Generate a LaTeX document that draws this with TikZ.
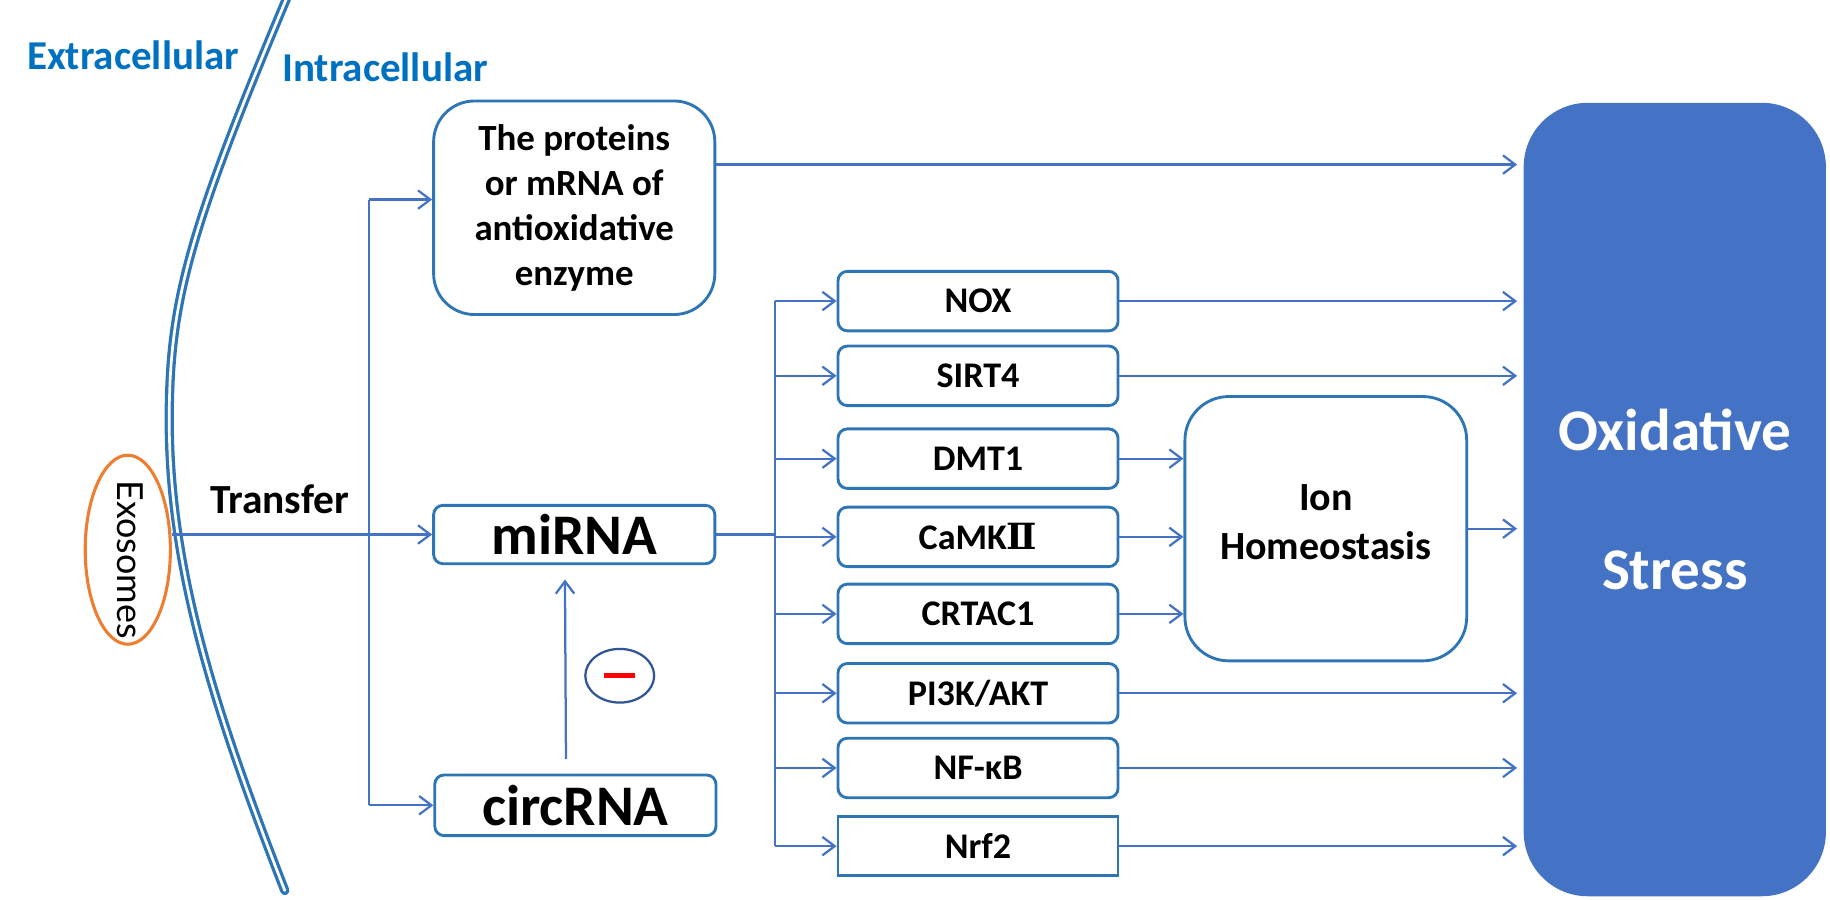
\documentclass[tikz,border=0pt]{standalone}
\usepackage{fontspec}
\setmainfont{Carlito}
\newfontfamily\exofont{Lato}
\newfontfamily\numfont{DejaVu Serif}
\usetikzlibrary{arrows.meta,shapes.geometric}
\definecolor{lineblue}{HTML}{4472C4}
\definecolor{boxblue}{HTML}{2E75B6}
\definecolor{textblue}{HTML}{0070C0}
\definecolor{exoorange}{HTML}{ED7D31}
\definecolor{minusblue}{HTML}{2F5597}

\begin{document}
\begin{tikzpicture}
[x=0.02cm,y=-0.02cm,%
  arr/.style={draw=lineblue,line width=1.1pt,-{Straight Barb[length=6pt,width=9pt]}},%
  conn/.style={draw=lineblue,line width=1.1pt},%
  box/.style={shape=rectangle,draw=boxblue,line width=1.4pt,rounded corners=0.16cm,
    minimum width=4.8cm,minimum height=1.02cm,inner sep=0pt,
    font=\bfseries\fontsize{17.6}{21}\selectfont},%
  rna/.style={box,minimum width=4.82cm,minimum height=1cm,
    font=\bfseries\fontsize{28}{32}\selectfont},%
  side/.style={text=textblue,font=\bfseries\fontsize{20}{24}\selectfont}]
\useasboundingbox (0,0) rectangle (1568,771);
% membrane
\def\membrane{(249.2,-10) -- (245,0) .. controls (161,200) and (145,260) .. (145,360)
  .. controls (145,490) and (186,614) .. (244,763)}
\draw[boxblue,line width=4.5pt,line cap=round] \membrane;
\draw[white,line width=1.3pt,line cap=round] \membrane;
\node[side] (extra) at (114,47) {Extracellular};
\node[side] (intra) at (330,58) {Intracellular};
\node[shape=ellipse,draw=exoorange,line width=1.5pt,
  minimum width=1.46cm,minimum height=3.24cm,inner sep=0pt] (exo) at (109.5,471) {};
\node[rotate=-90,inner sep=0pt,font=\exofont\fontsize{17.5}{20}\selectfont]
  (exotext) at (111.5,479.5) {Exosomes};
\node[font=\bfseries\fontsize{20.2}{24}\selectfont] (transfer) at (239.5,428) {Transfer};
% left column
\node[box,rounded corners=0.7cm,minimum width=4.82cm,minimum height=3.66cm,
  align=center,font=\bfseries\fontsize{18}{21.9}\selectfont] (prot) at (492,178)
  {The proteins\\or mRNA of\\antioxidative\\enzyme};
\node[rna] (mirna) at (492,458) {miRNA};
\node[rna,minimum height=1.04cm] (circ) at (493,690) {circRNA};
\node[shape=ellipse,draw=minusblue,line width=1.1pt,minimum width=1.18cm,
  minimum height=0.92cm,inner sep=0pt] (inhib) at (531,579)
  {\textcolor{red}{\rule{0.54cm}{0.08cm}}};
% middle column
\node[box] (nox) at (838,258) {NOX};
\node[box] (sirt) at (838,322) {SIRT4};
\node[box] (dmt) at (838,393) {DMT1};
\node[box] (camk) at (838,460) {CaMK{\numfont\bfseries Ⅱ}};
\node[box] (crtac) at (838,526) {CRTAC1};
\node[box] (pik) at (838,594) {PI3K/AKT};
\node[box] (nfkb) at (838,658) {NF-κB};
\node[box,sharp corners] (nrf) at (838,725) {Nrf2};
% right column
\node[box,rounded corners=0.75cm,minimum width=4.83cm,minimum height=4.53cm,
  align=center,text depth=0.24cm,font=\bfseries\fontsize{19.5}{23.8}\selectfont]
  (ion) at (1136,453) {Ion\\Homeostasis};
\node[shape=rectangle,fill=lineblue,rounded corners=1.1cm,minimum width=5.18cm,
  minimum height=13.6cm,text=white,align=center,
  font=\bfseries\fontsize{28.8}{68}\selectfont] (ox) at (1435,428) {Oxidative\\Stress};
% connectors
\coordinate (lx) at (316,171);
\coordinate (rx) at (664,0);
\draw[arr] (exo.east |- mirna.west) -- (mirna.west);
\draw[conn] (lx) -- (lx |- circ.west);
\draw[arr] (lx) -- (lx -| prot.west);
\draw[arr] (lx |- circ.west) -- (circ.west);
\draw[arr,shorten <=7pt,shorten >=7pt] ([xshift=-0.16cm]circ.north) -- ([xshift=-0.16cm]mirna.south);
\draw[conn] (mirna.east) -- (mirna.east -| rx);
\draw[conn] (nox.west -| rx) -- (nrf.west -| rx);
\foreach \n in {nox,sirt,dmt,camk,crtac,pik,nfkb,nrf}
  \draw[arr] (\n.west -| rx) -- (\n.west);
\foreach \n in {dmt,camk,crtac}
  \draw[arr] (\n.east) -- (\n.east -| ion.west);
\foreach \n in {nox,sirt,pik,nfkb,nrf,ion}
  \draw[arr,shorten >=3pt] (\n.east) -- (\n.east -| ox.west);
\draw[arr,shorten >=3pt] ([yshift=0.74cm]prot.east) -- ([yshift=0.74cm]prot.east -| ox.west);
\end{tikzpicture}
\end{document}
